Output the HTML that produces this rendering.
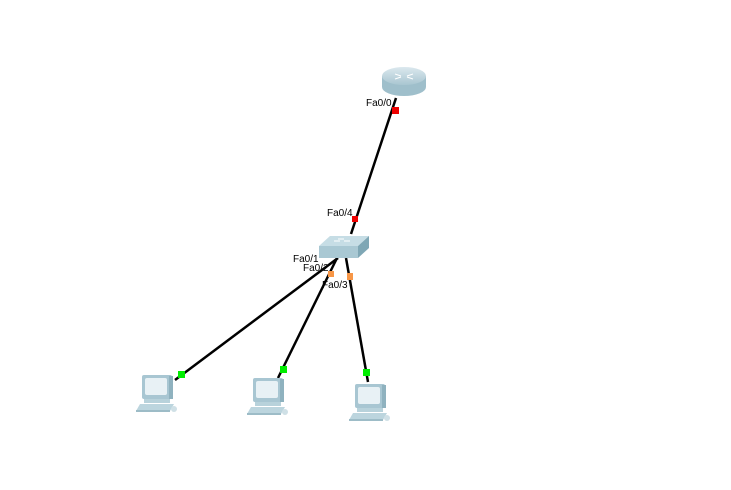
<!DOCTYPE html>
<html><head><style>body{margin:0;background:#fff}svg{display:block}text{font-family:"Liberation Sans",sans-serif;font-size:10px;fill:#000}</style></head><body>
<svg width="731" height="490" viewBox="0 0 731 490" xmlns="http://www.w3.org/2000/svg">
<defs>
<linearGradient id="rg" x1="0" x2="0" y1="0" y2="1"><stop offset="0" stop-color="#dbe8ee"/><stop offset="1" stop-color="#a9c6d1"/></linearGradient>
<g id="pc">
<rect x="6" y="0" width="30" height="24" rx="2" fill="#a8c6d2"/>
<rect x="9" y="3" width="22" height="17" rx="2" fill="#e8f1f5"/>
<rect x="33" y="1" width="4" height="23" fill="#8fb2bf"/>
<rect x="8" y="24" width="26" height="4" fill="#b8d2db"/>
<polygon points="4,29 38,29 34,36 0,36" fill="#bcd5de"/>
<rect x="0" y="35" width="34" height="2" fill="#9dbcc7"/>
<ellipse cx="38" cy="34" rx="3" ry="3" fill="#cfe0e6"/>
</g>
</defs>
<g stroke="#000" stroke-width="2.5" fill="none">
<line x1="396" y1="98" x2="351" y2="234"/>
<line x1="338" y1="258" x2="175" y2="380"/>
<line x1="337" y1="258" x2="278" y2="378"/>
<line x1="346" y1="258" x2="368" y2="382"/>
</g>
<!-- router -->
<path d="M382,76 L382,87 A22,9 0 0 0 426,87 L426,76 Z" fill="#9fbfcb"/>
<ellipse cx="404" cy="76" rx="22" ry="9" fill="url(#rg)"/>
<path d="M395,74 l6,2 M413,74 l-6,2 M395,79 l6,-2 M413,79 l-6,-2" stroke="#fff" stroke-width="1"/>
<!-- switch -->
<polygon points="330,236 369,236 358,246 319,246" fill="#c6dde5"/>
<polygon points="319,246 358,246 358,258 319,258" fill="#a9c8d3"/>
<polygon points="358,246 369,236 369,248 358,258" fill="#7fa7b5"/>
<path d="M334,241 h6 M344,241 h6 M338,239 h6" stroke="#fff" stroke-width="1"/>
<use href="#pc" x="136" y="375"/>
<use href="#pc" x="247" y="378"/>
<use href="#pc" x="349" y="384"/>
<rect x="392" y="107" width="7" height="7" fill="#e00"/>
<rect x="352" y="216" width="6" height="6" fill="#e00"/>
<rect x="328" y="271" width="6" height="6" fill="#f79646"/>
<rect x="347" y="273" width="6" height="7" fill="#f79646"/>
<rect x="178" y="371" width="7" height="7" fill="#0e0"/>
<rect x="280" y="366" width="7" height="7" fill="#0e0"/>
<rect x="363" y="369" width="7" height="7" fill="#0e0"/>
<text x="366" y="106">Fa0/0</text>
<text x="327" y="216">Fa0/4</text>
<text x="293" y="262">Fa0/1</text>
<text x="303" y="271">Fa0/2</text>
<text x="322" y="288">Fa0/3</text>
</svg>
</body></html>
